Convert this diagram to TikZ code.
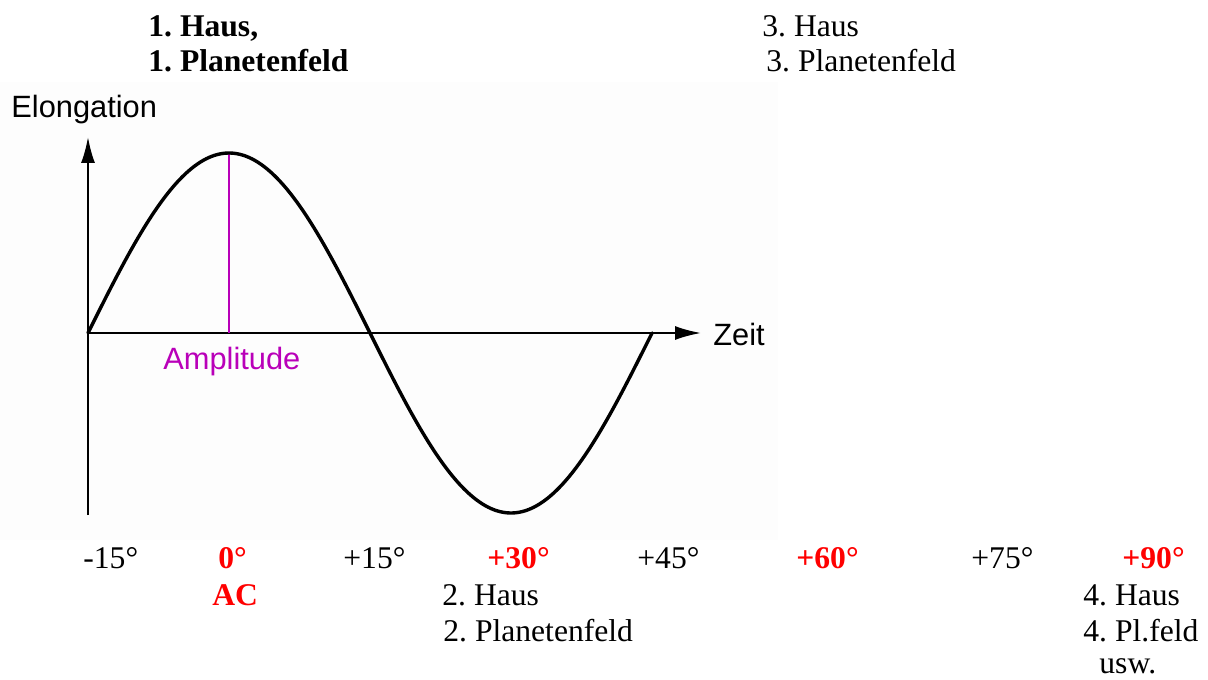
\documentclass[tikz,border=0pt]{standalone}
\usepackage{fontspec}
\setmainfont{Liberation Serif}
\newfontfamily\labelsans{Liberation Sans}
\usetikzlibrary{arrows.meta}
\definecolor{ampcol}{RGB}{185,0,185}
\definecolor{bgcol}{RGB}{253,253,253}
\frenchspacing
\tikzset{
  txt/.style={anchor=base west, inner sep=0pt, font=\frenchspacing\fontsize{15.8pt}{18pt}\selectfont},
  txtb/.style={txt, font=\frenchspacing\fontsize{15.8pt}{18pt}\selectfont\bfseries},
  redb/.style={txtb, text=red},
  sanslbl/.style={anchor=base west, inner sep=0pt, font=\labelsans\fontsize{15.4pt}{17pt}\selectfont},
  axis/.style={line width=1pt, -{Latex[length=13pt,width=7pt]}},
  wave/.style={line width=1.7pt, line join=round, line cap=round},
  amp/.style={line width=1.2pt, draw=ampcol}
}
\begin{document}
\begin{tikzpicture}[x=0.5pt, y=-0.5pt]
\useasboundingbox (0,0) rectangle (1208,679);
% graph image background
\fill[bgcol] (0,82) rectangle (778,540);
% top labels
\node[txtb] (h1) at (148,37) {1. Haus,};
\node[txtb] (p1) at (148,72) {1. Planetenfeld};
\node[txt] (h3) at (762,37) {3. Haus};
\node[txt] (p3) at (766,72) {3. Planetenfeld};
% axes
\coordinate (O) at (88,333);
\coordinate (ybot) at (88,515);
\coordinate (ytip) at (88,137);
\coordinate (xtip) at (701,333);
\coordinate (peak) at (229,154);
\coordinate (peakbase) at (229,333);
\draw[line width=1pt] (ybot) -- (O);
\draw[axis] (O) -- (ytip);
\draw[axis] (O) -- (xtip);
% amplitude line
\draw[amp] (peakbase) -- (peak);
% wave
\draw[wave] plot[domain=0:360, samples=120, smooth] ({88+\x*1.5667},{333-180*sin(\x)});
% sans labels
\node[sanslbl] (elong) at (11,118) {Elongation};
\node[sanslbl] (zeit) at (713,345) {Zeit};
\node[sanslbl, text=ampcol] (ampl) at (163,369) {Amplitude};
% degree row
\node[txt] (dm15) at (83,568) {-15°};
\node[redb] (d0) at (218,568) {0°};
\node[txt] (d15) at (343,568) {+15°};
\node[redb] (d30) at (487,568) {+30°};
\node[txt] (d45) at (637,568) {+45°};
\node[redb] (d60) at (796,568) {+60°};
\node[txt] (d75) at (971,568) {+75°};
\node[redb] (d90) at (1122,568) {+90°};
% bottom labels
\node[redb] (ac) at (212,605) {AC};
\node[txt] (h2) at (442,605) {2. Haus};
\node[txt] (p2) at (443,641) {2. Planetenfeld};
\node[txt] (h4) at (1083,605) {4. Haus};
\node[txt] (p4) at (1083,641) {4. Pl.feld};
\node[txt] (usw) at (1099,673) {usw.};
\end{tikzpicture}
\end{document}
